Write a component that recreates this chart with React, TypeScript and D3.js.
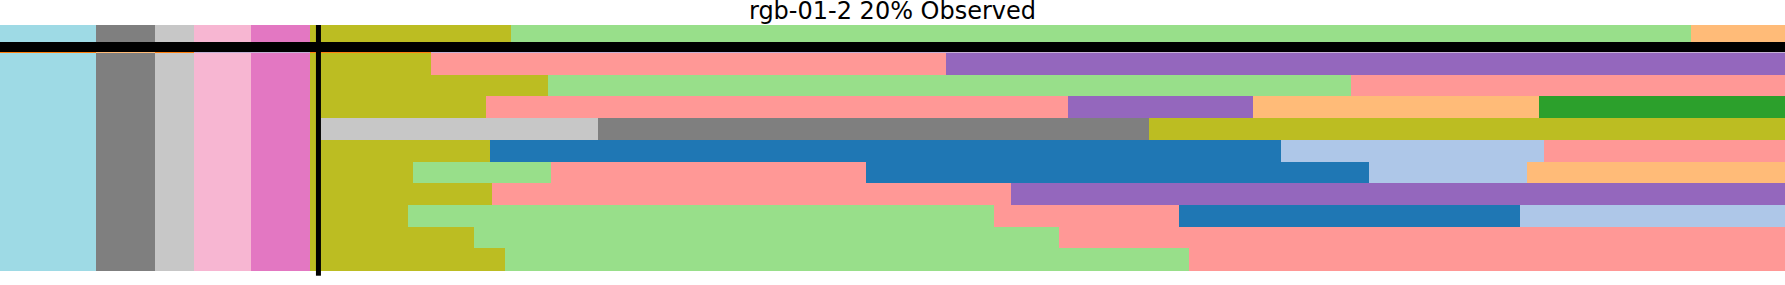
import React from "react";
import * as d3 from "d3";

const TITLE = "rgb-01-2 20% Observed";
const TOTAL_FRAMES = 1000;
const OBSERVED_FRAME = 178.4;

const PALETTE: Record<string, string> = {
  blue: "#1f77b4",
  lightBlue: "#aec7e8",
  orange: "#ff7f0e",
  lightOrange: "#ffbb78",
  green: "#2ca02c",
  lightGreen: "#98df8a",
  salmon: "#ff9896",
  purple: "#9467bd",
  lavender: "#c5b0d5",
  pink: "#e377c2",
  lightPink: "#f7b6d2",
  gray: "#7f7f7f",
  lightGray: "#c7c7c7",
  olive: "#bcbd22",
  lightCyan: "#9edae5",
};

// ground truth segments
const gtLabels = ["lightCyan", "gray", "lightGray", "lightPink", "pink", "olive", "lightGreen", "lightOrange"];
const gtEnds = [53.8, 86.8, 108.7, 140.6, 173.7, 286.2, 947.1, 1000];

// observed prefix shared by every prediction row
const prefixLabels = ["lightCyan", "gray", "lightGray", "lightPink", "pink"];
const prefixEnds = [53.8, 86.8, 108.7, 140.6, 173.7];

// predicted rows (labels and segment end frames, starting after the prefix)
const row1Labels = ["olive", "salmon", "purple"];
const row1Ends = [241.6, 530.0, 1000];
const row2Labels = ["olive", "lightGreen", "salmon"];
const row2Ends = [307.0, 756.6, 1000];
const row3Labels = ["olive", "salmon", "purple", "lightOrange", "green"];
const row3Ends = [272.3, 598.3, 702.0, 862.2, 1000];
const row4Labels = ["olive", "lightGray", "gray", "olive"];
const row4Ends = [178.4, 334.8, 643.5, 1000];
const row5Labels = ["olive", "blue", "lightBlue", "salmon"];
const row5Ends = [274.4, 717.6, 865.0, 1000];
const row6Labels = ["olive", "lightGreen", "salmon", "blue", "lightBlue", "lightOrange"];
const row6Ends = [231.1, 308.8, 484.9, 767.2, 855.7, 1000];
const row7Labels = ["olive", "salmon", "purple"];
const row7Ends = [275.4, 566.4, 1000];
const row8Labels = ["olive", "lightGreen", "salmon", "blue", "lightBlue"];
const row8Ends = [228.6, 556.6, 660.5, 851.5, 1000];
const row9Labels = ["olive", "lightGreen", "salmon"];
const row9Ends = [265.3, 593.0, 1000];
const row10Labels = ["olive", "lightGreen", "salmon"];
const row10Ends = [283.1, 666.1, 1000];

const predLabels = [row1Labels, row2Labels, row3Labels, row4Labels, row5Labels, row6Labels, row7Labels, row8Labels, row9Labels, row10Labels];
const predEnds = [row1Ends, row2Ends, row3Ends, row4Ends, row5Ends, row6Ends, row7Ends, row8Ends, row9Ends, row10Ends];

// thin boundary artifact line under the separator
const seamLabels = ["orange", "lightOrange", "orange", "lavender", "orange", "lavender"];
const seamEnds = [53.8, 86.8, 108.7, 173.7, 241.6, 1000];

type Seg = { label: string; start: number; end: number };

function toSegs(labels: string[], ends: number[]): Seg[] {
  let s = 0;
  return labels.map((l, i) => {
    const seg = { label: l, start: s, end: ends[i] };
    s = ends[i];
    return seg;
  });
}

const W = 1785;
const H = 285;

export default function App() {
  const x = d3.scaleLinear().domain([0, TOTAL_FRAMES]).range([0, W]);
  const rowIds = predLabels.map((_, i) => String(i));
  const y = d3.scaleBand().domain(rowIds).range([53, 270]).padding(0);

  const gtSegs = toSegs(gtLabels, gtEnds);
  const seamSegs = toSegs(seamLabels, seamEnds);
  const prefix = toSegs(prefixLabels, prefixEnds);

  const rect = (s: Seg, y0: number, h: number, key: string) => (
    <rect
      key={key}
      x={x(s.start)}
      y={y0}
      width={Math.max(0, x(s.end) - x(s.start))}
      height={h}
      fill={PALETTE[s.label]}
      shapeRendering="crispEdges"
    />
  );

  return (
    <svg
      width={W}
      height={H}
      style={{ position: "absolute", left: 0, top: 0, display: "block", background: "#fff" }}
    >
      <text
        x={W / 2}
        y={18.5}
        textAnchor="middle"
        fontFamily="DejaVu Sans"
        fontSize={24}
        fill="#000"
      >
        {TITLE}
      </text>
      {gtSegs.map((s, i) => rect(s, 25, 28, "gt" + i))}
      {predLabels.map((labels, r) => {
        const segs = toSegs(labels, predEnds[r]).map((s, i) =>
          i === 0 ? { ...s, start: prefixEnds[prefixEnds.length - 1] } : s
        );
        const all = [...prefix, ...segs];
        return (
          <g key={"row" + r}>
            {all.map((s, i) => rect(s, y(String(r))!, y.bandwidth() + 0.5, `r${r}s${i}`))}
          </g>
        );
      })}
      {seamSegs.map((s, i) => rect(s, 52, 1, "seam" + i))}
      <rect x={0} y={42} width={W} height={10} fill="#000" />
      <rect x={x(OBSERVED_FRAME) - 2.5} y={25} width={5} height={250.7} fill="#000" />
    </svg>
  );
}
